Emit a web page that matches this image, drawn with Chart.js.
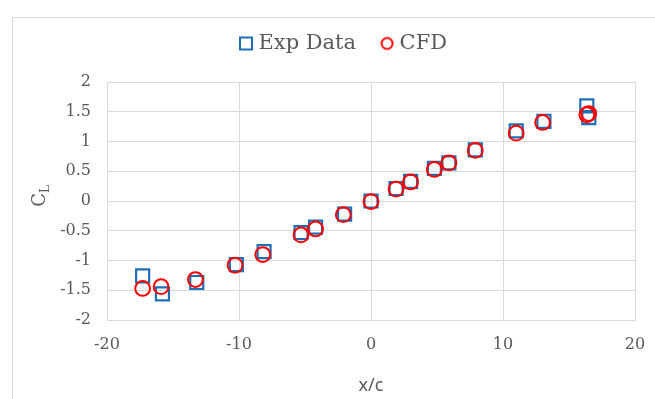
<!DOCTYPE html>
<html>
<head>
<meta charset="utf-8">
<script src="https://cdn.jsdelivr.net/npm/chart.js@4"></script>
<style>
  html, body { margin: 0; padding: 0; background: #ffffff; }
  #wrap { width: 655px; height: 399px; position: relative; }
</style>
</head>
<body>
<div id="wrap"><canvas id="c"></canvas></div>
<script>
// Lift coefficient vs. position x/c: experiment and CFD
const seriesNames = ['Exp Data', 'CFD'];

const expX = [-17.3, -15.8, -13.2, -10.2, -8.1, -5.3, -4.2, -2.0, 0.0, 1.9, 3.0, 4.8, 5.9, 7.9, 11.0, 13.1, 16.35, 16.5];
const expY = [-1.26, -1.56, -1.37, -1.07, -0.85, -0.53, -0.44, -0.22, 0.0, 0.21, 0.33, 0.55, 0.64, 0.86, 1.18, 1.34, 1.60, 1.40];

const cfdX = [-17.3, -15.9, -13.3, -10.3, -8.2, -5.3, -4.2, -2.1, 0.0, 1.9, 3.0, 4.8, 5.9, 7.9, 11.0, 13.0, 16.35, 16.5];
const cfdY = [-1.47, -1.44, -1.32, -1.08, -0.90, -0.57, -0.47, -0.23, -0.01, 0.20, 0.32, 0.53, 0.64, 0.85, 1.14, 1.32, 1.45, 1.47];

const xRange = [-20, 20];
const xStep = 10;
const yRange = [-2, 2];
const yStep = 0.5;
const xTitle = 'x/c';
const yTitleMain = 'C';
const yTitleSub = 'L';

const BLUE = '#1f6fb8';
const RED = '#ff0000';
const GRID = '#d9d9d9';
const TEXT = '#595959';

function toPoints(xs, ys) {
  return xs.map((x, i) => ({ x: x, y: ys[i] }));
}

// Tick labels without trailing zeros (2, 1.5, 1, 0.5 ...)
function plainNumber(v) {
  return String(Number(Number(v).toFixed(2)));
}

// Small marker images for the legend entries (drawn a little right of the box centre)
function legendMarker(kind, color) {
  const c = document.createElement('canvas');
  c.width = 26; c.height = 18;
  const g = c.getContext('2d');
  g.strokeStyle = color;
  g.lineWidth = 2;
  if (kind === 'rect') {
    g.strokeRect(10, 3, 12, 12);
  } else {
    g.beginPath();
    g.arc(16, 9, 5.5, 0, Math.PI * 2);
    g.stroke();
  }
  return c;
}
const legendMarkers = [legendMarker('rect', BLUE), legendMarker('circle', RED)];

// Extra room below the legend, above the plot
const legendGapPlugin = {
  id: 'legendGap',
  beforeInit(chart) {
    const legend = chart.legend;
    if (!legend) return;
    const baseFit = legend.fit;
    legend.fit = function () {
      baseFit.call(this);
      this.height += 18;
    };
  }
};

// Outer frame of the chart
const framePlugin = {
  id: 'frame',
  beforeDraw(chart) {
    const ctx = chart.ctx;
    ctx.save();
    ctx.fillStyle = '#ffffff';
    ctx.fillRect(0, 0, chart.width, chart.height);
    ctx.strokeStyle = GRID;
    ctx.lineWidth = 1;
    ctx.beginPath();
    ctx.moveTo(12.5, chart.height + 5);
    ctx.lineTo(12.5, 17.5);
    ctx.lineTo(chart.width + 5, 17.5);
    ctx.stroke();
    ctx.restore();
  }
};

// Rotated y-axis title with subscript
const yTitlePlugin = {
  id: 'yTitleSub',
  afterDraw(chart) {
    const ctx = chart.ctx;
    const area = chart.chartArea;
    ctx.save();
    ctx.translate(45, (area.top + area.bottom) / 2 - 5);
    ctx.rotate(-Math.PI / 2);
    ctx.fillStyle = TEXT;
    ctx.textBaseline = 'alphabetic';
    ctx.font = '18px "DejaVu Serif"';
    const wMain = ctx.measureText(yTitleMain).width;
    ctx.font = '12px "DejaVu Serif"';
    const wSub = ctx.measureText(yTitleSub).width;
    const x0 = -(wMain + wSub) / 2;
    ctx.font = '18px "DejaVu Serif"';
    ctx.fillText(yTitleMain, x0, 0);
    ctx.font = '12px "DejaVu Serif"';
    ctx.fillText(yTitleSub, x0 + wMain, 4);
    ctx.restore();
  }
};

new Chart(document.getElementById('c'), {
  type: 'scatter',
  data: {
    datasets: [
      {
        label: seriesNames[0],
        data: toPoints(expX, expY),
        pointStyle: 'rect',
        pointRadius: 9.2,
        pointHoverRadius: 9.2,
        borderColor: BLUE,
        backgroundColor: 'rgba(0,0,0,0)',
        pointBorderWidth: 2.2,
        borderWidth: 2.2,
        order: 1
      },
      {
        label: seriesNames[1],
        data: toPoints(cfdX, cfdY),
        pointStyle: 'circle',
        pointRadius: 7.4,
        pointHoverRadius: 7.4,
        borderColor: RED,
        backgroundColor: 'rgba(0,0,0,0)',
        pointBorderWidth: 2,
        borderWidth: 2,
        order: 0
      }
    ]
  },
  options: {
    responsive: true,
    maintainAspectRatio: false,
    animation: false,
    events: [],
    layout: { padding: { left: 50, right: 20, top: 10, bottom: 0 } },
    plugins: {
      tooltip: { enabled: false },
      legend: {
        position: 'top',
        align: 'center',
        labels: {
          usePointStyle: true,
          boxWidth: 10,
          boxHeight: 10,
          padding: 23,
          color: TEXT,
          font: { family: '"DejaVu Serif"', size: 21 },
          generateLabels(chart) {
            return chart.data.datasets.map((ds, i) => ({
              text: ds.label,
              datasetIndex: i,
              pointStyle: legendMarkers[i],
              fontColor: TEXT,
              lineWidth: 0,
              strokeStyle: 'rgba(0,0,0,0)',
              fillStyle: 'rgba(0,0,0,0)',
              hidden: false
            }));
          }
        }
      }
    },
    scales: {
      x: {
        type: 'linear',
        min: xRange[0],
        max: xRange[1],
        ticks: {
          stepSize: xStep,
          color: TEXT,
          padding: 15,
          callback: plainNumber,
          font: { family: '"DejaVu Serif"', size: 16 }
        },
        grid: { color: GRID, lineWidth: 1, drawTicks: false },
        border: { color: GRID, width: 1 },
        title: {
          display: true,
          text: xTitle,
          color: TEXT,
          font: { family: '"Noto Sans"', size: 18 },
          padding: { top: 4, bottom: 2 }
        },
        afterFit(scale) {
          scale.height = 79;
          // end labels only need half their width beside the plot
          scale.paddingLeft = 11;
          scale.paddingRight = 11;
        }
      },
      y: {
        type: 'linear',
        min: yRange[0],
        max: yRange[1],
        ticks: {
          stepSize: yStep,
          color: TEXT,
          padding: 16,
          callback: plainNumber,
          font: { family: '"DejaVu Serif"', size: 16 }
        },
        grid: { color: GRID, lineWidth: 1, drawTicks: false },
        border: { color: GRID, width: 1 },
        afterFit(scale) { scale.width = 57; }
      }
    }
  },
  plugins: [legendGapPlugin, framePlugin, yTitlePlugin]
});
</script>
</body>
</html>
